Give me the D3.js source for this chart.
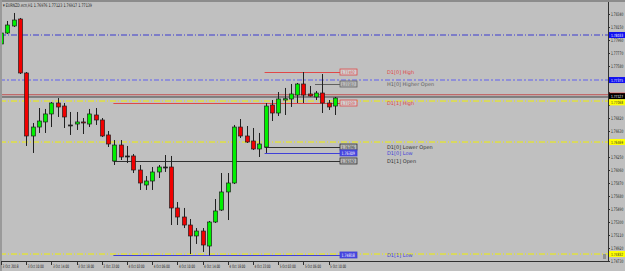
<!DOCTYPE html>
<html>
<head>
<meta charset="utf-8">
<script src="https://cdn.jsdelivr.net/npm/d3@7"></script>
<style>
body { margin: 0; background: #c0c0c0; }
svg { display: block; font-family: "DejaVu Sans", sans-serif; }
</style>
</head>
<body>
<svg id="chart" width="625" height="271"></svg>
<script>
// hourly candles, 3 Oct 06:00 -> 5 Oct 11:00
const opens  = [1.77902,1.78062,1.78165,1.78267,1.77478,1.76557,1.76688,1.76762,1.76879,1.77039,
                1.76995,1.76718,1.76732,1.76762,1.76732,1.76864,1.76791,1.76572,1.76192,1.76425,
                1.76265,1.76265,1.76060,1.75841,1.75899,1.76031,1.76104,1.76104,1.75505,1.75373,
                1.75256,1.75096,1.75168,1.74949,1.75300,1.75475,1.75739,1.75870,1.76688,1.76557,
                1.76484,1.76367,1.76396,1.77010,1.76893,1.77083,1.77098,1.77156,1.77317,1.77171,
                1.77127,1.77185,1.77039,1.76995];
const highs  = [1.78092,1.78238,1.78355,1.78282,1.77492,1.76747,1.76966,1.76952,1.77054,1.77112,
                1.77039,1.76908,1.76908,1.76820,1.76952,1.76966,1.76820,1.76630,1.76498,1.76498,
                1.76411,1.76294,1.76133,1.75972,1.76104,1.76133,1.76279,1.76265,1.75592,1.75505,
                1.75344,1.75212,1.75212,1.75315,1.75636,1.76016,1.76016,1.76718,1.76805,1.76703,
                1.76674,1.76601,1.77039,1.77083,1.77200,1.77259,1.77317,1.77332,1.77492,1.77288,
                1.77215,1.77463,1.77083,1.77127];
const lows   = [1.77858,1.78048,1.78150,1.77463,1.76411,1.76309,1.76601,1.76601,1.76688,1.76835,
                1.76674,1.76572,1.76645,1.76586,1.76688,1.76718,1.76542,1.76396,1.76133,1.76206,
                1.76162,1.76016,1.75768,1.75768,1.75768,1.75943,1.76031,1.75256,1.75256,1.75212,
                1.74832,1.74979,1.74862,1.74810,1.75285,1.75461,1.75329,1.75855,1.76528,1.76455,
                1.76352,1.76250,1.76309,1.76776,1.76849,1.76864,1.76981,1.77039,1.77039,1.77134,
                1.77083,1.76893,1.76937,1.76864];
const closes = [1.78062,1.78179,1.78252,1.77478,1.76557,1.76688,1.76776,1.76879,1.77039,1.76981,
                1.76835,1.76712,1.76762,1.76747,1.76879,1.76791,1.76557,1.76440,1.76425,1.76250,
                1.76258,1.76060,1.75870,1.75899,1.76031,1.76104,1.76098,1.75505,1.75373,1.75256,
                1.75096,1.75168,1.74964,1.75300,1.75461,1.75739,1.75870,1.76688,1.76557,1.76469,
                1.76367,1.76440,1.76995,1.76893,1.77098,1.77102,1.77171,1.77317,1.77156,1.77142,
                1.77185,1.77039,1.76981,1.77112];

const timeLabels = ["3 Oct 2018","3 Oct 10:00","3 Oct 14:00","3 Oct 18:00","3 Oct 22:00",
                    "4 Oct 02:00","4 Oct 06:00","4 Oct 10:00","4 Oct 14:00","4 Oct 18:00",
                    "4 Oct 22:00","5 Oct 02:00","5 Oct 06:00","5 Oct 10:00"];
const timeLabelIdx = [0,4,8,12,16,20,24,28,32,36,40,44,48,52];

const priceTicks = [1.78340,1.78150,1.77960,1.77770,1.77580,1.77390,1.77200,1.77010,1.76820,1.76630,
                    1.76440,1.76250,1.76060,1.75870,1.75680,1.75490,1.75300,1.75110,1.74920,1.74730];

// daily / hourly levels drawn from the day start up to the label box
const levelNames  = ["D1[0] High","H1[0] Higher Open","D1[1] High","D1[0] Lower Open","D1[0] Low","D1[1] Open","D1[1] Low"];
const levelPrices = [1.77492,1.77317,1.77039,1.76396,1.76309,1.76192,1.74818];
const levelStart  = [42,50,18,42,42,18,18];
const levelKind   = ["red","gray","red","dark","blue","dark","blue"];

// full-width lines
const blueLevels   = [1.78033,1.77375];
const yellowLevels = [1.77068,1.76469,1.74832];
const askPrice = 1.77160, bidPrice = 1.77127;
const titleText = "EURNZD.ecn,H1  1.76976 1.77123 1.76917 1.77139";

const plotR = 608, plotB = 261;
const svg = d3.select("#chart");

const x = d3.scaleLinear().domain([0, 53]).range([1, 334.9]);
const y = d3.scaleLinear().domain([1.78340, 1.74730]).range([14, 261]);

svg.append("rect").attr("width", 625).attr("height", 271).attr("fill", "#c0c0c0");
svg.append("rect").attr("width", 625).attr("height", 2).attr("fill", "#8c8c8c");
svg.append("rect").attr("width", 2).attr("height", 271).attr("fill", "#9a9a9a");

const plot = svg.append("g");
plot.append("defs").append("clipPath").attr("id", "clip")
  .append("rect").attr("x", 2).attr("y", 2).attr("width", plotR - 2).attr("height", plotB - 2);
const g = plot.append("g").attr("clip-path", "url(#clip)");

// full width level lines
g.selectAll(".bl").data(blueLevels).join("line")
  .attr("x1", 0).attr("x2", plotR)
  .attr("y1", d => y(d)).attr("y2", d => y(d))
  .attr("stroke", (d, i) => i == 0 ? "#3a3ad0" : "#8080e0")
  .attr("stroke-width", (d, i) => i == 0 ? 1 : 1.6)
  .attr("stroke-dasharray", (d, i) => i == 0 ? "6,2,1,2" : "5,2,2,2");

g.selectAll(".yl").data(yellowLevels).join("line")
  .attr("x1", 0).attr("x2", plotR)
  .attr("y1", d => y(d)).attr("y2", d => y(d))
  .attr("stroke", "#f0f000").attr("stroke-width", 1)
  .attr("stroke-dasharray", "6,2,1,2");

g.append("line").attr("x1", 0).attr("x2", plotR)
  .attr("y1", y(askPrice)).attr("y2", y(askPrice))
  .attr("stroke", "#c05050").attr("stroke-width", 1);
g.append("line").attr("x1", 0).attr("x2", plotR)
  .attr("y1", y(bidPrice)).attr("y2", y(bidPrice))
  .attr("stroke", "#404040").attr("stroke-width", 1);

// day levels
const kindColor = {red: "#e04848", gray: "#606060", dark: "#303030", blue: "#4040d8"};
const boxX = 340, boxW = 17;
g.selectAll(".lv").data(levelPrices).join("line")
  .attr("x1", (d, i) => x(levelStart[i]) - 1).attr("x2", boxX)
  .attr("y1", d => Math.round(y(d)) + 0.5).attr("y2", d => Math.round(y(d)) + 0.5)
  .attr("stroke", (d, i) => kindColor[levelKind[i]]).attr("stroke-width", 1);

// candles
const idx = d3.range(opens.length);
const cg = g.append("g");
cg.selectAll("line").data(idx).join("line")
  .attr("x1", i => Math.round(x(i)) + 0.5).attr("x2", i => Math.round(x(i)) + 0.5)
  .attr("y1", i => y(highs[i])).attr("y2", i => y(lows[i]))
  .attr("stroke", "#202020").attr("stroke-width", 1);
cg.selectAll("rect").data(idx).join("rect")
  .attr("x", i => Math.round(x(i)) - 1.5)
  .attr("width", 4)
  .attr("y", i => y(Math.max(opens[i], closes[i])))
  .attr("height", i => Math.max(1, Math.abs(y(opens[i]) - y(closes[i]))))
  .attr("fill", i => Math.abs(opens[i] - closes[i]) < 0.00008 ? "#202020" : (closes[i] > opens[i] ? "#00f000" : "#f00000"))
  .attr("stroke", "#202020").attr("stroke-width", 0.7);

// level boxes and names
const lb = svg.append("g");
lb.selectAll("rect").data(levelPrices).join("rect")
  .attr("x", boxX).attr("width", boxW)
  .attr("y", d => y(d) - 3).attr("height", 6)
  .attr("fill", (d, i) => levelKind[i] == "blue" ? "#4848e0" : (levelKind[i] == "red" ? "#cfcfcf" : "#b8b8b8"))
  .attr("stroke", (d, i) => kindColor[levelKind[i]]).attr("stroke-width", 0.8);
lb.selectAll(".bt").data(levelPrices).join("text")
  .attr("transform", d => `translate(${boxX + 1.5},${y(d) + 1.7}) scale(0.7,1)`)
  .attr("font-size", "4.6px")
  .attr("fill", (d, i) => levelKind[i] == "blue" ? "#ffffff" : kindColor[levelKind[i]])
  .text(d => d.toFixed(5));
lb.selectAll(".nt").data(levelNames).join("text")
  .attr("x", 387).attr("y", (d, i) => y(levelPrices[i]) + 2)
  .attr("font-size", "5px")
  .attr("fill", (d, i) => kindColor[levelKind[i]])
  .text(d => d);

// frame
svg.append("line").attr("x1", plotR + 0.5).attr("x2", plotR + 0.5).attr("y1", 2).attr("y2", plotB + 1)
  .attr("stroke", "#303030");
svg.append("line").attr("x1", 2).attr("x2", plotR + 1).attr("y1", plotB + 0.5).attr("y2", plotB + 0.5)
  .attr("stroke", "#303030");

// highlighted price labels (dy nudges the two that sit almost on top of each other)
const hl = [];
blueLevels.forEach(p => hl.push({p: p, bg: "#1010f0", fg: "#ffffff", dy: 0}));
hl.push({p: bidPrice, bg: "#000000", fg: "#ffffff", dy: -0.8});
yellowLevels.forEach((p, i) => hl.push({p: p, bg: "#ffff00", fg: "#303030", dy: i == 0 ? 1.3 : 0}));

// price axis (ticks hidden under a highlighted label are skipped)
const shownTicks = priceTicks.filter(t => hl.every(h => Math.abs(y(h.p) - y(t)) > 4) && Math.abs(y(askPrice) - y(t)) > 4);
const pa = svg.append("g");
pa.selectAll("line").data(priceTicks).join("line")
  .attr("x1", plotR).attr("x2", plotR + 2)
  .attr("y1", d => Math.round(y(d)) + 0.5).attr("y2", d => Math.round(y(d)) + 0.5)
  .attr("stroke", "#303030");
pa.selectAll("text").data(shownTicks).join("text")
  .attr("transform", d => `translate(611,${y(d) + 1.8}) scale(0.62,1)`)
  .attr("font-size", "4.8px").attr("fill", "#202020")
  .text(d => d.toFixed(5));

const hg = svg.append("g");
hg.append("rect").attr("x", 609).attr("width", 16)
  .attr("y", y(askPrice) - 2).attr("height", 2.5).attr("fill", "#ff2020");
hg.selectAll(".hr").data(hl).join("rect")
  .attr("x", 609).attr("width", 16)
  .attr("y", d => y(d.p) - 3 + d.dy).attr("height", 6)
  .attr("fill", d => d.bg);
hg.selectAll("text").data(hl).join("text")
  .attr("transform", d => `translate(611,${y(d.p) + 1.6 + d.dy}) scale(0.68,1)`)
  .attr("font-size", "4.3px").attr("fill", d => d.fg)
  .text(d => d.p.toFixed(5));

// time axis
const ta = svg.append("g");
ta.selectAll("line").data(timeLabelIdx).join("line")
  .attr("x1", i => Math.round(x(i)) + 0.5).attr("x2", i => Math.round(x(i)) + 0.5)
  .attr("y1", plotB).attr("y2", plotB + 4)
  .attr("stroke", "#303030");
ta.selectAll("text").data(timeLabels).join("text")
  .attr("x", (d, i) => x(timeLabelIdx[i]) + 1.5).attr("y", 268)
  .attr("font-size", "4.6px").attr("fill", "#202020")
  .attr("textLength", 16).attr("lengthAdjust", "spacingAndGlyphs")
  .text(d => d);

// title
svg.append("text").attr("x", 3).attr("y", 7).attr("font-size", "4.8px").attr("fill", "#202020")
  .attr("textLength", 89).attr("lengthAdjust", "spacingAndGlyphs")
  .text("\u25BE " + titleText);

// shift marker
svg.append("rect").attr("x", 603).attr("y", 254).attr("width", 3).attr("height", 5)
  .attr("fill", "#909090");
</script>
</body>
</html>
